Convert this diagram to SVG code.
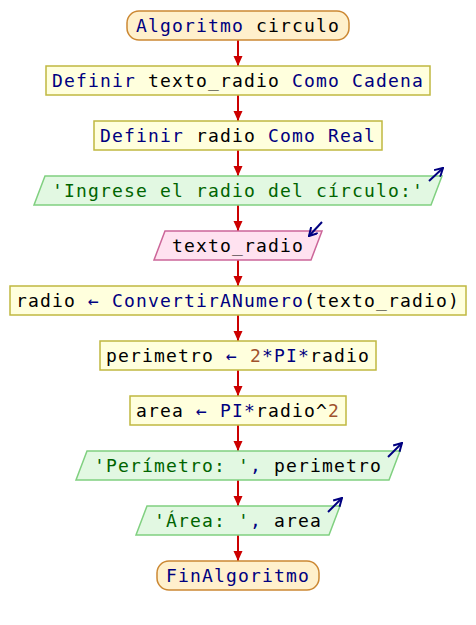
<svg xmlns="http://www.w3.org/2000/svg" width="476" height="625" viewBox="0 0 476 625">
<defs>
<marker id="ah" markerUnits="userSpaceOnUse" markerWidth="10" markerHeight="10" viewBox="0 0 10 10" refX="10" refY="5" orient="auto">
<path d="M0,0.5 L10,5 L0,9.5 z" fill="#cc0000"/>
</marker>
<marker id="io" markerUnits="userSpaceOnUse" markerWidth="10" markerHeight="10" viewBox="0 0 10 10" refX="9" refY="5" orient="auto">
<path d="M1,0.5 L9,5 L1,9.5" fill="none" stroke="#000080" stroke-width="2"/>
</marker>
</defs>
<style>
text{font-family:"DejaVu Sans Mono","Liberation Mono",monospace;font-size:18px;letter-spacing:1.16px;text-anchor:middle;fill:#000}
.k{fill:#000080}
.s{fill:#006400}
.n{fill:#a0522d}
.term{fill:#fff0cc;stroke:#cc8833;stroke-width:1.5}
.proc{fill:#ffffdd;stroke:#c0b840;stroke-width:1.5}
.out{fill:#e2f8e2;stroke:#80d080;stroke-width:1.5}
.in{fill:#ffe2f0;stroke:#cc6699;stroke-width:1.5}
.c{stroke:#cc0000;stroke-width:2;fill:none;marker-end:url(#ah)}
.ioa{stroke:#000080;stroke-width:2;fill:none;marker-end:url(#io)}
</style>
<g id="connectors">
<line class="c" x1="238" y1="40" x2="238" y2="66"/>
<line class="c" x1="238" y1="95" x2="238" y2="121"/>
<line class="c" x1="238" y1="150" x2="238" y2="176"/>
<line class="c" x1="238" y1="205" x2="238" y2="231"/>
<line class="c" x1="238" y1="260" x2="238" y2="286"/>
<line class="c" x1="238" y1="315" x2="238" y2="341"/>
<line class="c" x1="238" y1="370" x2="238" y2="396"/>
<line class="c" x1="238" y1="425" x2="238" y2="451"/>
<line class="c" x1="238" y1="480" x2="238" y2="506"/>
<line class="c" x1="238" y1="535" x2="238" y2="561"/>
</g>
<g id="start">
<rect class="term" x="127" y="11" width="222" height="29" rx="12"/>
<text x="238" y="32"><tspan class="k">Algoritmo</tspan> circulo</text>
</g>
<g id="def1">
<rect class="proc" x="46" y="66" width="384" height="29"/>
<text x="238" y="87"><tspan class="k">Definir</tspan> texto_radio <tspan class="k">Como</tspan> <tspan class="k">Cadena</tspan></text>
</g>
<g id="def2">
<rect class="proc" x="94" y="121" width="288" height="29"/>
<text x="238" y="142"><tspan class="k">Definir</tspan> radio <tspan class="k">Como</tspan> <tspan class="k">Real</tspan></text>
</g>
<g id="out1">
<polygon class="out" points="45,176 442,176 431,205 34,205"/>
<text x="238" y="197"><tspan class="s">'Ingrese el radio del círculo:'</tspan></text>
<line class="ioa" x1="429" y1="181" x2="443" y2="168"/>
</g>
<g id="in1">
<polygon class="in" points="165,231 322,231 311,260 154,260"/>
<text x="238" y="252">texto_radio</text>
<line class="ioa" x1="322" y1="222" x2="309" y2="236"/>
</g>
<g id="assign1">
<rect class="proc" x="10" y="286" width="456" height="29"/>
<text x="238" y="307">radio <tspan class="k">←</tspan> <tspan class="k">ConvertirANumero</tspan>(texto_radio)</text>
</g>
<g id="assign2">
<rect class="proc" x="100" y="341" width="276" height="29"/>
<text x="238" y="362">perimetro <tspan class="k">←</tspan> <tspan class="n">2</tspan><tspan class="k">*PI*</tspan>radio</text>
</g>
<g id="assign3">
<rect class="proc" x="130" y="396" width="216" height="29"/>
<text x="238" y="417">area <tspan class="k">←</tspan> <tspan class="k">PI*</tspan>radio^<tspan class="n">2</tspan></text>
</g>
<g id="out2">
<polygon class="out" points="87,451 400,451 389,480 76,480"/>
<text x="238" y="472"><tspan class="s">'Perímetro: '</tspan><tspan class="k">,</tspan> perimetro</text>
<line class="ioa" x1="388" y1="457" x2="402" y2="443"/>
</g>
<g id="out3">
<polygon class="out" points="147,506 340,506 329,535 136,535"/>
<text x="238" y="527"><tspan class="s">'Área: '</tspan><tspan class="k">,</tspan> area</text>
<line class="ioa" x1="328" y1="512" x2="342" y2="498"/>
</g>
<g id="end">
<rect class="term" x="157" y="561" width="162" height="29" rx="12"/>
<text x="238" y="582"><tspan class="k">FinAlgoritmo</tspan></text>
</g>
</svg>
